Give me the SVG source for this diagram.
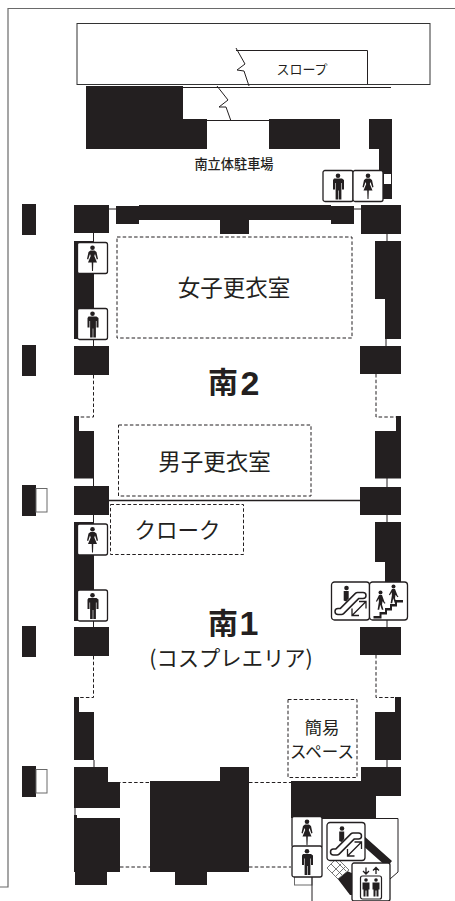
<svg xmlns="http://www.w3.org/2000/svg" width="455" height="901" viewBox="0 0 455 901">
<style>
.b{fill:#231f20;stroke:none}
.l{fill:none;stroke:#231f20;stroke-width:1}
.a{fill:none;stroke:#231f20;stroke-width:1.300}
.g{fill:#fff;stroke:#6a6a6a;stroke-width:1}
.d{fill:none;stroke:#231f20;stroke-width:1;stroke-dasharray:3.5 2.2}
.ic{fill:#fff;stroke:#231f20;stroke-width:1.300}
text{font-family:"Noto Sans CJK JP","Noto Sans",sans-serif;fill:#231f20;text-anchor:middle}
.num{font-family:"Liberation Sans",Arial,sans-serif;font-weight:700}
</style>
<defs>
<g id="man"><rect class="ic" x="0" y="0" width="30" height="31" rx="2"/><circle class="b" cx="15" cy="5.200" r="2.300"/><path class="b" d="M11 8h8l2 1.500v9.500h-2v-6.500h-.6v16.500h-2.600v-9h-.6v9h-2.600v-16.500h-.6v6.500h-2v-9.500z"/></g>
<g id="woman"><rect class="ic" x="0" y="0" width="30" height="31" rx="2"/><circle class="b" cx="15" cy="5.200" r="2.300"/><path class="b" d="M13 8h4l2 1.500 1.500 7-1.200.5-1.800-5.500-.7 2 2.700 6.500h-3.700l-.3 8.500h-1l-.3-8.500h-3.700l2.700-6.500-.7-2-1.800 5.500-1.200-.5 1.500-7z"/></g>
<g id="esc"><rect class="ic" x="0" y="0" width="38" height="38" rx="3"/><circle class="b" cx="15" cy="6" r="2.300"/><path class="b" d="M12.200 9h5v7.500l-2.500 3-2.500-1z"/><path d="M6.500 29.500h3.500l16-16h5.500" fill="none" stroke="#231f20" stroke-width="7.500" stroke-linecap="round" stroke-linejoin="round"/><path d="M6.500 29.500h3.500l16-16h5.500" fill="none" stroke="#fff" stroke-width="4.500" stroke-linecap="round" stroke-linejoin="round"/><path class="a" d="M20.500 33.500l14-14M27.500 19.500h7v7M27.500 33.500h-7v-7"/></g>
<g id="stairs"><rect class="ic" x="0" y="0" width="38" height="38" rx="3"/><path class="b" d="M4 34h6v-4h5.500v-4h5v-4h5v-4h8v2.500h-6v4h-5v4h-5v4h-5.500v4H4z"/><circle class="b" cx="11" cy="10.500" r="2"/><path class="b" d="M9.500 13h3l2.500 7 1 1-1 .8-2-2.500-.5 3.500 1.500 5h-1.600l-1.700-5-1 5h-1.600l1.300-8-.2-3-1.800 3-1-.6z"/><circle class="b" cx="24" cy="4.500" r="2"/><path class="b" d="M22.500 7h3l2.500 6.500 1 1-1 .8-2-2.500-.5 3.500 1.500 5h-1.600l-1.700-5-1 5h-1.600l1.300-8-.2-3-1.800 3-1-.6z"/></g>
<g id="elv"><rect class="ic" x="0" y="0" width="38" height="38" rx="2"/><path class="a" d="M14 4.500v6.500M11 8l3 3 3-3M24 11v-6.500M21 7.500l3-3 3 3"/><rect x="8.500" y="13" width="21" height="23" rx="2" fill="#fff" stroke="#231f20" stroke-width="1.200"/><circle class="b" cx="14" cy="17" r="1.800"/><circle class="b" cx="24" cy="17" r="1.800"/><path class="b" d="M10.500 19.500h7v7h-1v7h-2v-6h-1v6h-2v-7h-1zM20.500 19.500h7v7h-1v7h-2v-6h-1v6h-2v-7h-1z"/></g>
</defs>
<rect width="455" height="901" fill="#fff"/>
<g id="frame"><path d="M455 8.500H8V887H0" fill="none" stroke="#6a6a6a" stroke-width="1.200"/></g>
<g id="slope"><rect x="77" y="23.500" width="353" height="61" fill="none" stroke="#333" stroke-width="1"/><path class="l" d="M236 50.500H367.500V84M183 87.500H391M207 120.500H269"/><path class="l" d="M236 48l9 16-8 6 7 1 5 15M217 86l11 14-9 7 7 0 5 14"/></g>
<g id="walls">
<path class="b" d="M86 86h97v33h24v30H86zM269 119h71v30h-71zM369 119h23v80h-13v-50h-10z"/>
<rect class="b" x="384" y="174" width="8" height="25"/>
<rect x="384" y="174" width="7" height="10" fill="#fff"/>
<rect class="b" x="22" y="204" width="14" height="31"/>
<rect class="b" x="74" y="205" width="35" height="28"/>
<path class="b" d="M116 206h23v-1h192v1h23v18h-23v-4h-82v14h-29v-14h-81v4h-23z"/>
<rect class="b" x="361" y="205" width="40" height="29"/>
<path class="b" d="M74 241h20v98H74zM375 241h26v98h-16v-40h-10z"/>
<rect class="b" x="74" y="346" width="35" height="29"/>
<rect class="b" x="22" y="345" width="14" height="31"/>
<rect class="b" x="360" y="346" width="41" height="28"/>
<path class="b" d="M74 416h5v15h15v47.500H74zM396 416h5v62.500h-26V431h21z"/>
<rect class="b" x="74" y="486" width="35" height="29"/>
<rect class="b" x="22" y="485" width="14" height="31"/>
<rect class="b" x="360" y="487" width="41" height="28"/>
<path class="b" d="M74 522h20v99H74zM375 522h26v62h-16v-22h-10z"/>
<rect class="b" x="74" y="627" width="35" height="29"/>
<rect class="b" x="22" y="626" width="14" height="31"/>
<rect class="b" x="360" y="627" width="41" height="28"/>
<path class="b" d="M74 697h5v15h15v48H74zM395 697h6v63h-26v-48h20z"/>
<rect class="b" x="22" y="766" width="14" height="31"/>
<path class="b" d="M74 767h34v15h12v26H74zM74 815h3v3h43v54h-13v13H75v-13h-1z"/>
<path class="b" d="M150 781h70v-14h29v105h-42v13h-32v-13h-25z"/>
<path class="b" d="M291 781h70v-14h40v29h-25v22H291z"/>
</g>
<g id="connectors">
<path class="l" d="M109 209h7M354 209h7M93.500 233v8M93.500 339v7M387 234v7M386 339v7M93.500 478v8M387 478v9M93.500 515v7M387 515v7M93.500 621v6M387 620v7M94 760v7M387 760v7M75 808v7"/>
<path class="a" d="M109 500.500H360"/>
<path class="d" d="M93.500 375V417H79M376 374V417H396M93.500 656V697.500H79M376 655V697.500H395M117 782.500H150M249 782.500H291M120 867H150M249 867H291"/>
<rect class="g" x="36" y="488.500" width="11" height="23.500"/>
<rect class="g" x="36" y="769.500" width="11" height="23.500"/>
<rect class="g" x="294.500" y="875" width="17.500" height="10"/>
<path class="l" d="M312 875V901M322 818.500H398V872L390 879"/>
</g>
<g id="escalator-well">
<path class="b" d="M364 836l28 25-5 6-26-23zM334 874l6-6 14 6v21l-4 0z"/>
<path d="M327 868l10-10 12 12-11 9z" fill="#fff" stroke="#555" stroke-width=".8"/>
<path d="M331 864l11 11M335 860l11 11M332 873l9-9M336 876l9-9" fill="none" stroke="#555" stroke-width=".8"/>
</g>
<g id="zones">
<rect class="d" x="117" y="237" width="235" height="101"/>
<rect class="d" x="118.500" y="425" width="192.500" height="71"/>
<rect class="d" x="110.500" y="504.500" width="133" height="50"/>
<rect class="d" x="288" y="699.500" width="69" height="78"/>
</g>
<g id="wc-top"><use href="#man" x="323" y="170.500"/><use href="#woman" x="353" y="170.500"/></g>
<g id="wc-south2"><use href="#woman" x="77.500" y="242.500"/><use href="#man" x="77.500" y="308.500"/></g>
<g id="wc-south1"><use href="#woman" x="77.500" y="524"/><use href="#man" x="77.500" y="590"/></g>
<g id="esc-stairs"><use href="#esc" x="331.500" y="582"/><use href="#stairs" x="369.500" y="582"/></g>
<g id="wc-bottom"><use href="#woman" x="292" y="816.500"/><use href="#man" x="292" y="846"/></g>
<g id="esc-bottom"><use href="#esc" x="327" y="822.500"/></g>
<g id="elevator"><use href="#elv" x="352" y="863"/></g>
<g id="labels">
<text x="302" y="74" font-size="13">スロープ</text>
<text x="234" y="169" font-size="13.200" font-weight="500">南立体駐車場</text>
<text x="234" y="296" font-size="22.500">女子更衣室</text>
<text x="223" y="393" font-size="30" font-weight="700">南</text>
<text class="num" x="250" y="394.500" font-size="34">2</text>
<text x="223" y="634" font-size="30" font-weight="700">南</text>
<text class="num" x="249" y="635" font-size="34">1</text>
<text x="214.500" y="470" font-size="22.500">男子更衣室</text>
<text x="177.500" y="538" font-size="21.500">クローク</text>
<text x="231" y="666" font-size="21.300">(コスプレエリア)</text>
<text x="322" y="733.500" font-size="17.500">簡易</text>
<text x="322" y="758" font-size="16.500">スペース</text>
</g>
</svg>
